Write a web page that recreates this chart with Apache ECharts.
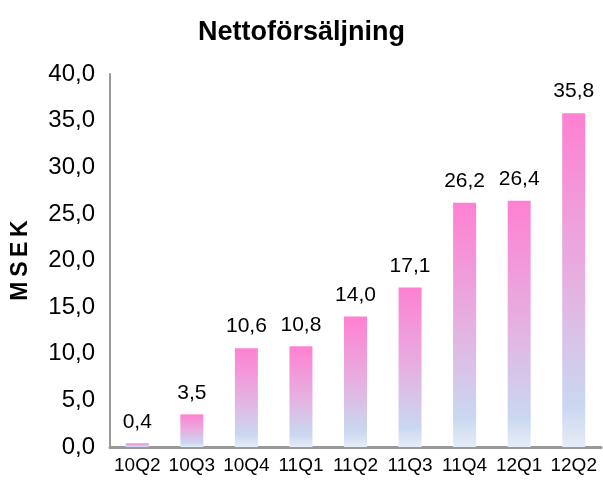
<!DOCTYPE html>
<html>
<head>
<meta charset="utf-8">
<script src="https://cdn.jsdelivr.net/npm/echarts@6/dist/echarts.min.js"></script>
<style>
  html, body { margin: 0; padding: 0; background: #fff; }
  #main { width: 603px; height: 480px; }
</style>
</head>
<body>
<div id="main"></div>
<script>
var quarters = ['10Q2', '10Q3', '10Q4', '11Q1', '11Q2', '11Q3', '11Q4', '12Q1', '12Q2'];
var sales = [0.4, 3.5, 10.6, 10.8, 14.0, 17.1, 26.2, 26.4, 35.8];
var yTicks = { min: 0, max: 40, interval: 5 };

function fmt(v) {
    return v.toFixed(1).replace('.', ',');
}

var myChart = echarts.init(document.getElementById('main'));
var option = {
    animation: false,
    backgroundColor: '#fff',
    title: {
        text: 'Nettoförsäljning',
        left: 'center',
        top: 14,
        textStyle: { fontFamily: 'Arial', fontSize: 27, fontWeight: 'bold', color: '#000' }
    },
    grid: { left: 110, right: 2, top: 74, bottom: 33 },
    xAxis: {
        type: 'category',
        data: quarters,
        axisLine: { lineStyle: { color: '#999', width: 3 } },
        axisTick: { show: false },
        axisLabel: { fontFamily: 'Arial', fontSize: 19, color: '#000', margin: 9, interval: 0 }
    },
    yAxis: {
        type: 'value',
        min: yTicks.min,
        max: yTicks.max,
        interval: yTicks.interval,
        name: 'M\u2009S\u2009E\u2009K',
        nameLocation: 'middle',
        nameGap: 78,
        nameTextStyle: { fontFamily: 'Arial', fontSize: 23, fontWeight: 'bold', color: '#000' },
        axisLine: { show: true, lineStyle: { color: '#999', width: 2 } },
        axisTick: { show: false },
        splitLine: { show: false },
        axisLabel: {
            fontFamily: 'Arial', fontSize: 24, color: '#000', margin: 15,
            formatter: function (v) { return fmt(v); }
        }
    },
    series: [{
        type: 'bar',
        data: sales,
        barWidth: 23,
        itemStyle: {
            color: new echarts.graphic.LinearGradient(0, 0, 0, 1, [
                { offset: 0, color: '#ff80d2' },
                { offset: 0.5, color: '#e6b0e0' },
                { offset: 0.88, color: '#c9d8f0' },
                { offset: 1, color: '#e6ecf8' }
            ])
        },
        label: {
            show: true,
            position: 'top',
            distance: 11,
            fontFamily: 'Arial', fontSize: 21, color: '#000',
            formatter: function (p) { return fmt(p.value); }
        }
    }]
};
myChart.setOption(option);
</script>
</body>
</html>
